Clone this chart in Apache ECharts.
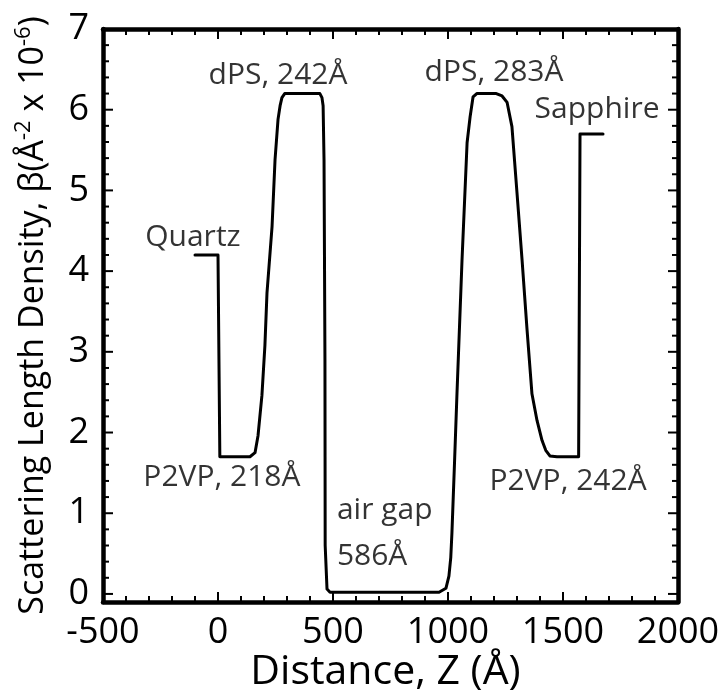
<!DOCTYPE html>
<html>
<head>
<meta charset="utf-8">
<script src="https://cdn.jsdelivr.net/npm/echarts@6/dist/echarts.min.js"></script>
<style>html,body{margin:0;padding:0;background:#fff}#c{width:722px;height:690px}</style>
</head>
<body>
<div id="c"></div>
<script>
// Distance Z (Å)
const zValues = [-100, 0, 8, 139, 161, 174, 191, 204, 213, 235, 248, 261, 270, 278, 290, 443, 452, 457, 461, 465, 466, 474, 487,
  961, 991, 1004, 1012, 1017, 1028, 1039, 1061, 1083, 1096, 1109, 1125, 1210, 1235, 1257, 1278, 1300, 1322, 1343, 1365,
  1387, 1409, 1425, 1443, 1474, 1568, 1574, 1674];
// Scattering length density (x 1e-6 Å^-2)
const sldValues = [4.2, 4.2, 1.7, 1.7, 1.75, 1.96, 2.46, 3.08, 3.73, 4.55, 5.38, 5.88, 6.05, 6.15, 6.2, 6.2, 6.15, 6.05, 5.38, 2.89, 0.6, 0.06, 0.02,
  0.02, 0.07, 0.22, 0.45, 0.75, 1.6, 2.48, 4.14, 5.59, 5.91, 6.16, 6.2, 6.2, 6.17, 6.09, 5.79, 4.97, 4.14, 3.30, 2.48,
  2.15, 1.90, 1.78, 1.71, 1.7, 1.7, 5.7, 5.7];
const annotationTexts = ['Quartz', 'dPS, 242Å', 'dPS, 283Å', 'Sapphire', 'P2VP, 218Å', 'P2VP, 242Å', 'air gap', '586Å'];
const annotationZ = [-109, 261, 1200, 1648, 17, 1522, 517, 517];
const annotationY = [4.42, 6.43, 6.46, 6.0, 1.44, 1.39, 1.03, 0.46];
const annotationAlign = ['center', 'center', 'center', 'center', 'center', 'center', 'left', 'left'];
const xTicks = [-500, 0, 500, 1000, 1500, 2000];
const xMinorTicks = [];
for (let i = 0; i < xTicks.length - 1; i++) for (let k = 1; k < 5; k++) xMinorTicks.push(xTicks[i] + k * 100);
const yTicks = [0, 1, 2, 3, 4, 5, 6, 7];
const yMinorTicks = [];
for (let i = 0; i < yTicks.length - 1; i++) for (let k = 1; k < 5; k++) yMinorTicks.push(+(yTicks[i] + k * 0.2).toFixed(2));

const FONT = 'Open Sans';
const lineData = zValues.map((z, i) => [z, sldValues[i]]);
const annData = annotationTexts.map((t, i) => ({
  name: t, value: [annotationZ[i], annotationY[i]],
  label: { align: annotationAlign[i] }
}));

// tick marks drawn through the axis scales (inward, mirrored on opposite side)
const MAJOR = 10, MINOR = 6;
function tickStyle() { return { stroke: '#000', lineWidth: 2 }; }
function xTickRender(params, api) {
  const v = api.value(0);
  const cs = params.coordSys;
  const px = api.coord([v, 0])[0];
  const len = xTicks.indexOf(v) >= 0 ? MAJOR : MINOR;
  const b = cs.y + cs.height, t = cs.y;
  return { type: 'group', children: [
    { type: 'line', shape: { x1: px, y1: b, x2: px, y2: b - len }, style: tickStyle() },
    { type: 'line', shape: { x1: px, y1: t, x2: px, y2: t + len }, style: tickStyle() }
  ] };
}
function yTickRender(params, api) {
  const v = api.value(1);
  const cs = params.coordSys;
  const py = api.coord([0, v])[1];
  const len = yTicks.indexOf(v) >= 0 ? MAJOR : MINOR;
  const l = cs.x, r = cs.x + cs.width;
  return { type: 'group', children: [
    { type: 'line', shape: { x1: l, y1: py, x2: l + len, y2: py }, style: tickStyle() },
    { type: 'line', shape: { x1: r, y1: py, x2: r - len, y2: py }, style: tickStyle() }
  ] };
}

const chart = echarts.init(document.getElementById('c'), null, { renderer: 'canvas' });
chart.setOption({
  animation: false,
  backgroundColor: '#fff',
  grid: { left: 103, right: 44, top: 29, bottom: 88, containLabel: false, outerBoundsMode: 'none' },
  xAxis: [{
    type: 'value', position: 'bottom', min: -500, max: 2000, interval: 500,
    axisLine: { show: true, onZero: false, lineStyle: { color: '#000', width: 4.5 } },
    splitLine: { show: false }, axisTick: { show: false },
    axisLabel: { color: '#000', fontFamily: FONT, fontSize: 36, margin: 13, formatter: v => String(v) },
    name: 'Distance, Z (Å)', nameLocation: 'middle', nameGap: 50, nameMoveOverlap: false,
    nameTextStyle: { color: '#000', fontFamily: FONT, fontSize: 41, padding: [0, 10, 0, 0] }
  }, {
    type: 'value', position: 'top', min: -500, max: 2000, interval: 500,
    axisLine: { show: true, onZero: false, lineStyle: { color: '#000', width: 4.5 } },
    splitLine: { show: false }, axisTick: { show: false }, axisLabel: { show: false }
  }],
  yAxis: [{
    type: 'value', position: 'left', min: -0.1, max: 7,
    axisLine: { show: true, onZero: false, lineStyle: { color: '#000', width: 4.5 } },
    splitLine: { show: false }, axisTick: { show: false },
    axisLabel: { customValues: yTicks, color: '#000', fontFamily: FONT, fontSize: 36, margin: 14 },
    name: '{m|Scattering Length Density, β(Å}{s|-2}{m| x 10}{s|-6}{m|)}',
    nameLocation: 'middle', nameGap: 50, nameRotate: 90, nameMoveOverlap: false,
    nameTextStyle: {
      color: '#000', fontFamily: FONT, fontSize: 34,
      rich: {
        m: { fontFamily: FONT, fontSize: 34, color: '#000', lineHeight: 40 },
        s: { fontFamily: FONT, fontSize: 22, color: '#000', verticalAlign: 'top', lineHeight: 40, padding: [0, 0, 14, 0] }
      }
    }
  }, {
    type: 'value', position: 'right', min: -0.1, max: 7,
    axisLine: { show: true, onZero: false, lineStyle: { color: '#000', width: 4.5 } },
    splitLine: { show: false }, axisTick: { show: false }, axisLabel: { show: false }
  }],
  series: [
    {
      type: 'line', xAxisIndex: 0, yAxisIndex: 0, data: lineData,
      showSymbol: false, symbol: 'none', smooth: false,
      lineStyle: { color: '#000', width: 3, join: 'round', cap: 'round' }, z: 3
    },
    {
      type: 'custom', xAxisIndex: 0, yAxisIndex: 0, silent: true, clip: false,
      data: xTicks.concat(xMinorTicks).map(v => [v, 0]),
      encode: { x: 0, y: 1 }, renderItem: xTickRender, z: 4
    },
    {
      type: 'custom', xAxisIndex: 0, yAxisIndex: 0, silent: true, clip: false,
      data: yTicks.concat(yMinorTicks).map(v => [0, v]),
      encode: { x: 0, y: 1 }, renderItem: yTickRender, z: 4
    },
    {
      type: 'scatter', xAxisIndex: 0, yAxisIndex: 0, data: annData,
      symbolSize: 0, silent: true, clip: false,
      label: {
        show: true, position: 'inside', formatter: '{b}', color: '#000',
        fontFamily: FONT, fontSize: 30, verticalAlign: 'middle'
      }
    }
  ]
});
</script>
</body>
</html>
